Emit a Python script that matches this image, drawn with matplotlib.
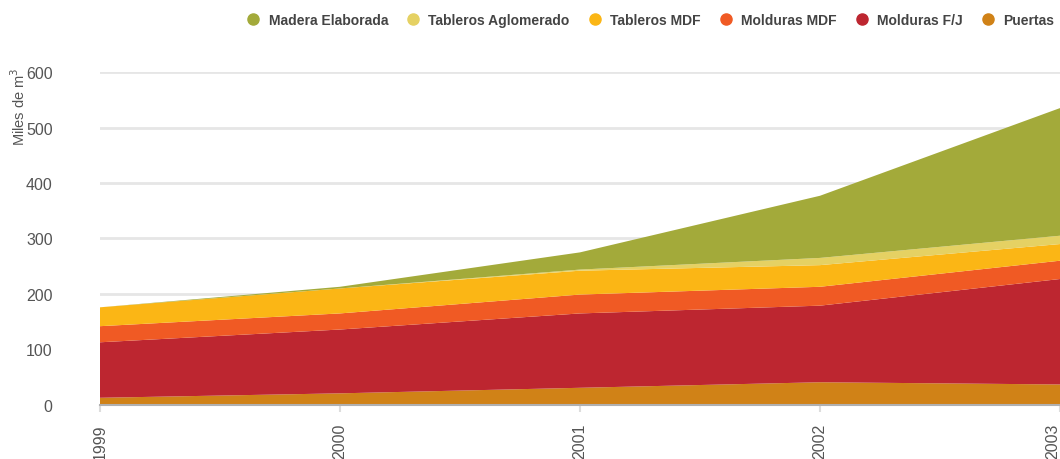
import matplotlib
matplotlib.use('Agg')
import matplotlib.pyplot as plt
from matplotlib.lines import Line2D

years = [1999, 2000, 2001, 2002, 2003]
puertas = [13, 21, 31, 41, 37]
molduras_fj = [100, 115, 134, 138, 190]
molduras_mdf = [29, 29, 34, 34, 33]
tableros_mdf = [34, 45, 43, 39, 30]
tableros_aglo = [0, 0, 2, 13, 15]
madera = [0, 3, 31, 112, 230]

names = ['Puertas', 'Molduras F/J', 'Molduras MDF', 'Tableros MDF',
         'Tableros Aglomerado', 'Madera Elaborada']
colors = ['#D08217', '#BD2630', '#F05A24', '#FBB615', '#E5D163', '#A3AA3A']

plt.rcParams['font.family'] = ['Liberation Sans', 'DejaVu Sans']

fig = plt.figure(figsize=(10.6, 4.6), dpi=100)
ax = fig.add_axes([0.0943, 0.1174, 0.9057, 0.7239])

ax.stackplot(years, puertas, molduras_fj, molduras_mdf, tableros_mdf,
             tableros_aglo, madera, colors=colors, linewidth=0)

ax.set_xlim(1999, 2003)
ax.set_ylim(0, 600)
ax.set_yticks(range(0, 601, 100))
ax.set_xticks(years)
ax.set_xticklabels([str(y) for y in years], rotation=90)
# keep last year label inside the figure
ax.get_xticklabels()[-1].set_horizontalalignment('right')
ax.grid(axis='y', color='#e6e6e6', linewidth=2)
ax.set_axisbelow(True)

for s in ['top', 'right', 'left']:
    ax.spines[s].set_visible(False)
ax.spines['bottom'].set_color('#b0b0b0')
ax.spines['bottom'].set_linewidth(1.5)

ax.tick_params(axis='y', length=0, pad=34, labelsize=11.5, labelcolor='#555555')
ax.tick_params(axis='x', length=5, width=1.5, color='#dddddd', pad=8,
               labelsize=11.5, labelcolor='#555555')

ax.set_ylabel('Miles de m$^3$', fontsize=10.5, color='#555555')
ax.yaxis.set_label_coords(-0.075, 0.9)

handles = [Line2D([], [], marker='o', linestyle='', markersize=8, color=c)
           for c in colors[::-1]]
fig.legend(handles, names[::-1], loc='center right', bbox_to_anchor=(1.006, 0.955),
           ncol=6, frameon=False, handletextpad=0.1, columnspacing=0.8,
           prop={'weight': 'bold', 'size': 10}, labelcolor='#444444')

fig.savefig('out.png', dpi=100)
